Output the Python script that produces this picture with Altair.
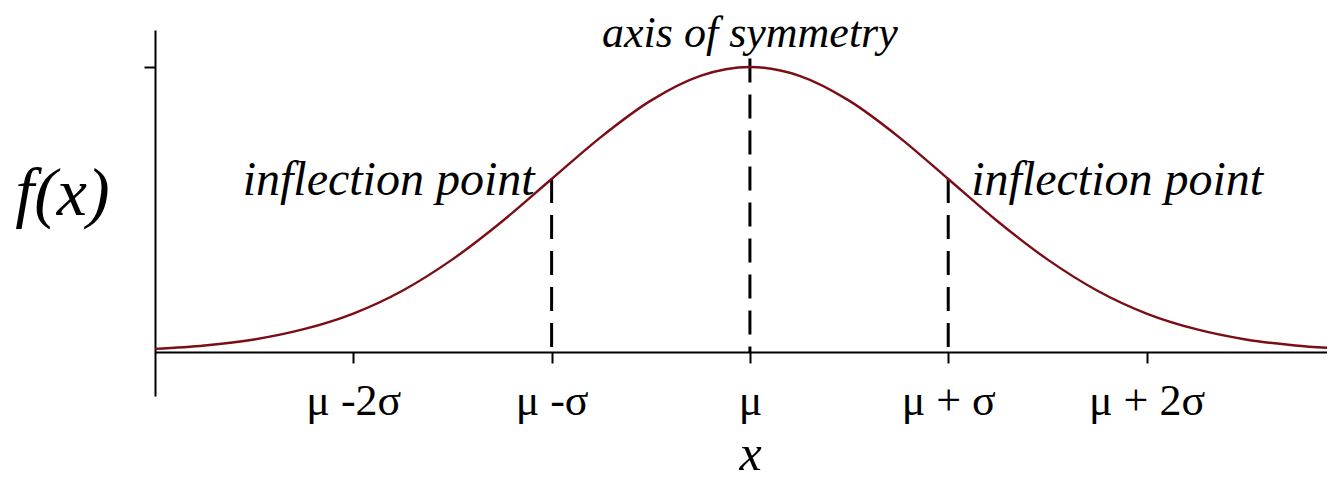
import altair as alt
import pandas as pd

# Curve: position in sigma units and height relative to the peak
z_vals = [-3.0, -2.75, -2.5, -2.25, -2.0, -1.75, -1.5, -1.25, -1.0, -0.75, -0.5, -0.25,
          0.0, 0.25, 0.5, 0.75, 1.0, 1.25, 1.5, 1.75, 2.0, 2.25, 2.5, 2.75, 3.0]
f_vals = [0.011, 0.023, 0.044, 0.080, 0.135, 0.216, 0.325, 0.458, 0.607, 0.755, 0.882, 0.969,
          1.000, 0.969, 0.882, 0.755, 0.607, 0.458, 0.325, 0.216, 0.135, 0.080, 0.044, 0.023, 0.011]

# Dashed guide lines (inflection points and axis of symmetry)
rule_x = [-1.0, 0.0, 1.0]
rule_top = [0.607, 1.03, 0.607]

# Tick labels
tick_values = [-2, -1, 0, 1, 2]
tick_labels = ["μ -2σ", "μ -σ", "μ", "μ + σ", "μ + 2σ"]

# Annotations
ann_text = ["axis of symmetry", "inflection point", "inflection point"]
ann_x = [0.0, -1.0, 1.0]
ann_y = [1.070, 0.551, 0.551]

SERIF = "'Liberation Serif', 'Times New Roman', Times, serif"

curve_df = pd.DataFrame({"z": z_vals, "f": f_vals})
rule_df = pd.DataFrame({"z": rule_x, "top": rule_top, "base": [0.0] * len(rule_x)})
ann_df = pd.DataFrame({"text": ann_text, "z": ann_x, "f": ann_y})

label_expr = "''"
for v, t in reversed(list(zip(tick_values, tick_labels))):
    label_expr = f"datum.value == {v} ? '{t}' : ({label_expr})"

x_scale = alt.Scale(domain=[-3.0, 2.91], nice=False, zero=False)
y_scale = alt.Scale(domain=[-0.1544, 1.1298], nice=False, zero=False)

x_axis = alt.Axis(
    values=tick_values, labelExpr=label_expr, offset=-44, grid=False,
    domainColor="black", domainWidth=2, tickColor="black", tickWidth=2, tickSize=11,
    labelFont=SERIF, labelFontSize=44, labelColor="black", labelBaseline="alphabetic",
    labelPadding=51, labelFlush=False, labelOverlap=False,
    title="x", titleFont=SERIF, titleFontStyle="italic", titleFontWeight="normal",
    titleFontSize=50, titleColor="black", titleBaseline="alphabetic", titleY=117,
    titleX=595, titleAlign="center",
)
y_axis = alt.Axis(
    values=[1], labels=False, grid=False,
    domainColor="black", domainWidth=2, tickColor="black", tickWidth=2, tickSize=11,
    title="f(x)", titleAngle=0, titleFont=SERIF, titleFontStyle="italic",
    titleFontWeight="normal", titleFontSize=68, titleColor="black",
    titleAlign="center", titleBaseline="middle", titleX=-93, titleY=164,
)

curve = alt.Chart(curve_df).mark_line(
    color="#7b0d16", strokeWidth=2.4, interpolate="monotone", clip=True
).encode(
    x=alt.X("z:Q", scale=x_scale, axis=x_axis),
    y=alt.Y("f:Q", scale=y_scale, axis=y_axis),
)

rules = alt.Chart(rule_df).mark_rule(
    color="black", strokeWidth=3, strokeDash=[24, 12]
).encode(
    x=alt.X("z:Q", scale=x_scale),
    y=alt.Y("top:Q", scale=y_scale),
    y2="base:Q",
)

text_style = dict(font=SERIF, fontStyle="italic", color="black", baseline="alphabetic")

ann_center = alt.Chart(ann_df.iloc[[0]]).mark_text(
    align="center", fontSize=44, **text_style
).encode(x=alt.X("z:Q", scale=x_scale), y=alt.Y("f:Q", scale=y_scale), text="text:N")

ann_left = alt.Chart(ann_df.iloc[[1]]).mark_text(
    align="right", dx=-17, fontSize=48, **text_style
).encode(x=alt.X("z:Q", scale=x_scale), y=alt.Y("f:Q", scale=y_scale), text="text:N")

ann_right = alt.Chart(ann_df.iloc[[2]]).mark_text(
    align="left", dx=23, fontSize=48, **text_style
).encode(x=alt.X("z:Q", scale=x_scale), y=alt.Y("f:Q", scale=y_scale), text="text:N")

chart = alt.layer(rules, curve, ann_center, ann_left, ann_right).properties(
    width=1172, height=366,
    background="white",
    autosize=alt.AutoSizeParams(type="none"),
    padding={"left": 147, "top": 22, "right": 0, "bottom": 85},
).configure_view(stroke=None)

chart.save("out.html", embed_options={"renderer": "svg", "actions": False})
